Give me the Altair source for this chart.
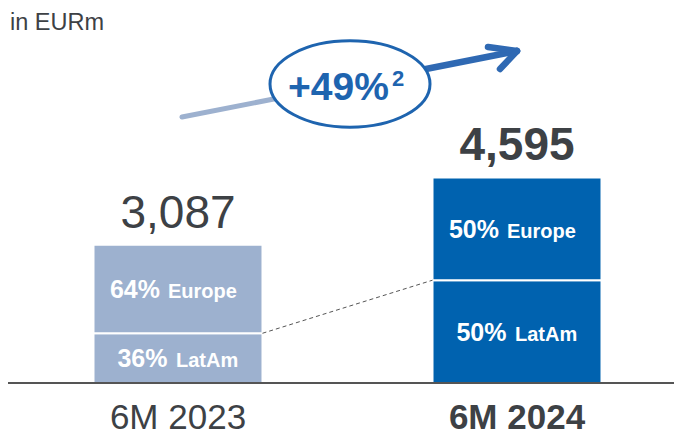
import altair as alt
import pandas as pd

periods = ["6M 2023", "6M 2024"]
totals = [3087, 4595]
total_labels = ["3,087", "4,595"]
latam_pct = [36, 50]
europe_pct = [64, 50]
growth_label = "+49%"
growth_note = "2"
unit_label = "in EURm"

FONT = "Liberation Sans"
TXT = "#3D4145"
LIGHT = "#9DB1CF"
DARK = "#0062AF"
ACCENT = "#1E64AF"

rows = []
for p, t, la, eu in zip(periods, totals, latam_pct, europe_pct):
    lv = t * la / 100
    ev = t * eu / 100
    rows.append(dict(period=p, segment="LatAm", value=lv, order=0, pct=f"{la}%", mid=lv / 2))
    rows.append(dict(period=p, segment="Europe", value=ev, order=1, pct=f"{eu}%", mid=lv + ev / 2))
seg = pd.DataFrame(rows)
tot = pd.DataFrame(dict(period=periods, total=totals, label=total_labels))
dash = pd.DataFrame(dict(src=[periods[0]], dst=[periods[1]],
                         y0=[totals[0] * latam_pct[0] / 100],
                         y1=[totals[1] * latam_pct[1] / 100]))

xscale = alt.Scale(domain=periods, range=[85.5, 593.5], paddingInner=0.5015, paddingOuter=0)
yscale = alt.Scale(domain=[0, 8380], nice=False, zero=True)
xaxis = alt.Axis(title=None, domain=False, ticks=False, grid=False,
                 labelFont=FONT, labelFontSize=35, labelColor=TXT,
                 labelFontWeight=alt.expr("datum.value == '6M 2024' ? 'bold' : 'normal'"),
                 labelBaseline="alphabetic", labelPadding=45, labelAngle=0)

base = alt.Chart(seg)
bars = base.mark_bar(stroke="white", strokeWidth=2).encode(
    x=alt.X("period:N", scale=xscale, axis=xaxis, title=None),
    y=alt.Y("value:Q", stack="zero", scale=yscale, axis=None),
    color=alt.Color("period:N", scale=alt.Scale(domain=periods, range=[LIGHT, DARK]), legend=None),
    order=alt.Order("order:Q"),
)

def seg_text(segment, pct_dx, word_dx):
    d = base.transform_filter(alt.datum.segment == segment)
    enc = dict(x=alt.X("period:N", scale=xscale, title=None),
               y=alt.Y("mid:Q", scale=yscale))
    p = d.mark_text(font=FONT, fontSize=25, fontWeight="bold", color="white",
                    align="right", baseline="alphabetic", dx=pct_dx, dy=9).encode(text="pct:N", **enc)
    w = d.mark_text(font=FONT, fontSize=20, fontWeight="bold", color="white",
                    align="left", baseline="alphabetic", dx=word_dx, dy=9).encode(text="segment:N", **enc)
    return p + w

tbase = alt.Chart(tot)
tenc = dict(x=alt.X("period:N", scale=xscale, title=None), y=alt.Y("total:Q", scale=yscale), text="label:N")
t23 = tbase.transform_filter(alt.datum.period == periods[0]).mark_text(
    font=FONT, fontSize=46, color=TXT, baseline="alphabetic", dy=-17).encode(**tenc)
t24 = tbase.transform_filter(alt.datum.period == periods[1]).mark_text(
    font=FONT, fontSize=46, fontWeight="bold", color=TXT, baseline="alphabetic", dy=-17).encode(**tenc)

dashed = alt.Chart(dash).mark_rule(color="#555555", strokeWidth=1, strokeDash=[4, 3]).encode(
    x=alt.X("src:N", scale=xscale, bandPosition=1, title=None),
    x2=alt.X2("dst:N", bandPosition=0),
    y=alt.Y("y0:Q", scale=yscale),
    y2="y1:Q",
)

baseline = alt.Chart(tot).mark_rule(color="#555555", strokeWidth=2).encode(
    y=alt.datum(0, scale=yscale), x=alt.value(-2), x2=alt.value(674))

one = pd.DataFrame({"k": [0]})
deco = alt.Chart(one)
arrow_light = deco.mark_rule(color=LIGHT, strokeWidth=5, strokeCap="round").encode(
    x=alt.value(174), y=alt.value(109), x2=alt.value(342), y2=alt.value(76))
arrow_dark = deco.mark_rule(color="#2F69B3", strokeWidth=6.5, strokeCap="round").encode(
    x=alt.value(342), y=alt.value(76), x2=alt.value(509), y2=alt.value(43))
arm1 = deco.mark_rule(color="#2F69B3", strokeWidth=6.5, strokeCap="round").encode(
    x=alt.value(509), y=alt.value(43), x2=alt.value(480), y2=alt.value(39))
arm2 = deco.mark_rule(color="#2F69B3", strokeWidth=6.5, strokeCap="round").encode(
    x=alt.value(509), y=alt.value(43), x2=alt.value(492), y2=alt.value(61))
ellipse = deco.mark_point(
    shape="M-1,0A1,0.54,0,1,1,1,0A1,0.54,0,1,1,-1,0Z", size=25600, filled=True,
    fill="white", stroke=ACCENT, strokeWidth=3, opacity=1).encode(
    x=alt.value(342), y=alt.value(76))
gtext = deco.mark_text(font=FONT, fontSize=39, fontWeight="bold", color=ACCENT,
                       align="left", baseline="alphabetic").encode(
    x=alt.value(280), y=alt.value(92), text=alt.value(growth_label))
gnote = deco.mark_text(font=FONT, fontSize=22, fontWeight="bold", color=ACCENT,
                       align="left", baseline="alphabetic").encode(
    x=alt.value(384), y=alt.value(78), text=alt.value(growth_note))
unit = deco.mark_text(font=FONT, fontSize=23.5, color=TXT, align="left", baseline="alphabetic").encode(
    x=alt.value(2), y=alt.value(22), text=alt.value(unit_label))

chart = alt.layer(
    bars, dashed, baseline, t23, t24,
    seg_text("Europe", -18, -10), seg_text("LatAm", -10.5, -2),
    arrow_light, arrow_dark, arm1, arm2, ellipse, gtext, gnote, unit,
).properties(
    width=666, height=375,
    background="white",
    autosize=alt.AutoSizeParams(type="none"),
    padding={"left": 0, "top": 0, "right": 0, "bottom": 53},
).configure_view(stroke=None)

chart.save("out.html", embed_options={"renderer": "svg", "actions": False})
